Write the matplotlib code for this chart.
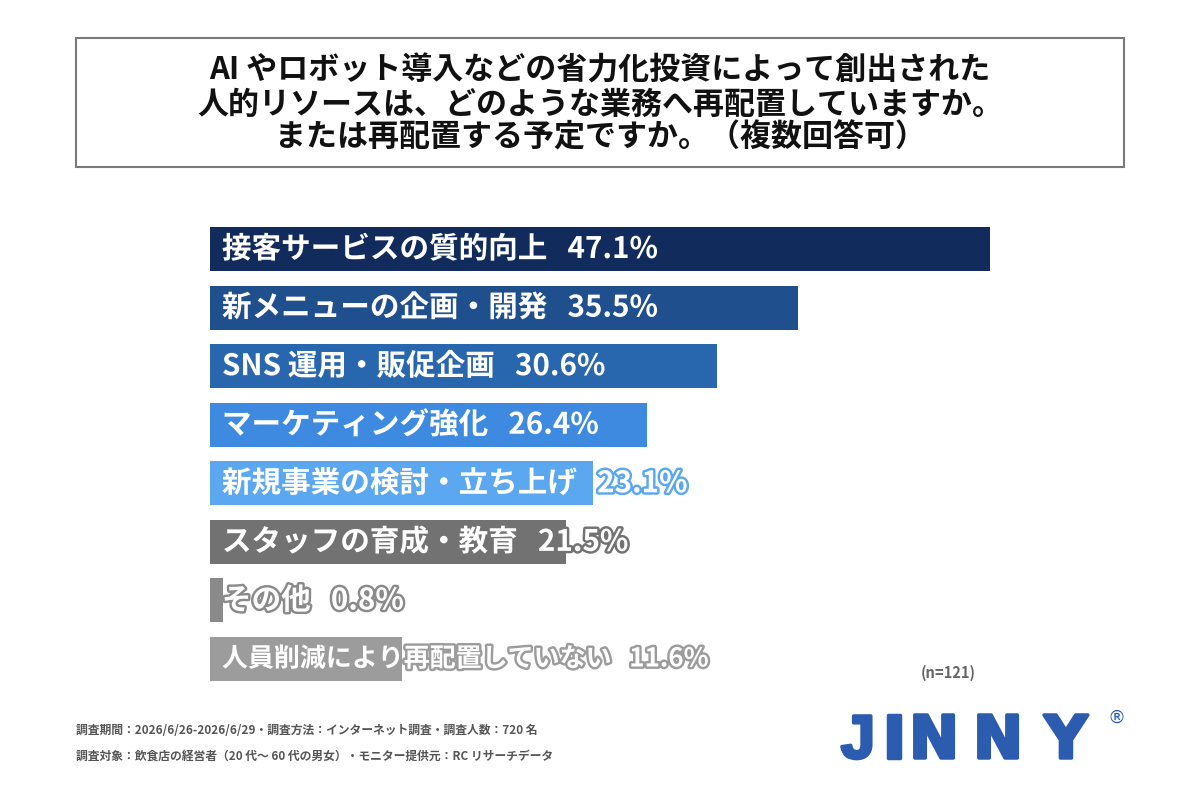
import matplotlib
matplotlib.use("Agg")
import matplotlib.pyplot as plt
import matplotlib.patheffects as pe
from matplotlib.patches import Rectangle

plt.rcParams['font.family'] = ['Noto Sans CJK JP', 'DejaVu Sans']

categories = [
    "接客サービスの質的向上",
    "新メニューの企画・開発",
    "SNS 運用・販促企画",
    "マーケティング強化",
    "新規事業の検討・立ち上げ",
    "スタッフの育成・教育",
    "その他",
    "人員削減により再配置していない",
]
values = [47.1, 35.5, 30.6, 26.4, 23.1, 21.5, 0.8, 11.6]
colors = ["#112b5c", "#1f4f8c", "#2866ae", "#3d8ae0", "#5ba8f0",
          "#727272", "#8a8a8a", "#9c9c9c"]
label_sizes = [21.3, 21.3, 21.3, 21.3, 21.3, 21.3, 21.3, 18.7]

title_lines = [
    "AI やロボット導入などの省力化投資によって創出された",
    "人的リソースは、どのような業務へ再配置していますか。",
    "または再配置する予定ですか。（複数回答可）",
]
footnotes = [
    "調査期間：2026/6/26-2026/6/29・調査方法：インターネット調査・調査人数：720 名",
    "調査対象：飲食店の経営者（20 代～ 60 代の男女）・モニター提供元：RC リサーチデータ",
]
n_label = "(n=121)"
logo_letters = ["J", "I", "N", "N", "Y"]

W, H = 1200, 800
fig = plt.figure(figsize=(12, 8), dpi=100)
fig.patch.set_facecolor("white")

def fx(px):
    return px / W

def fy(py):
    return 1 - py / H

# title box
fig.add_artist(Rectangle((fx(76), fy(167)), fx(1124) - fx(76), fy(38) - fy(167),
                         transform=fig.transFigure, fill=False,
                         edgecolor="#7a7a7a", linewidth=1.5))
for i, line in enumerate(title_lines):
    fig.text(0.5, fy(71 + 33.5 * i), line, ha="center", va="center",
             fontsize=22.3, fontweight="bold", color="#111111")

# bars axes
spacing = 58.57
top_px = 249 - spacing / 2
bot_px = 249 + spacing * 7.5
ax = fig.add_axes([fx(210), fy(bot_px), fx(1110) - fx(210), fy(top_px) - fy(bot_px)])
ax.set_xlim(0, 900 / 16.56)
ax.set_ylim(len(values) - 0.5, -0.5)
ax.axis("off")

ypos = list(range(len(values)))
ax.barh(ypos, values, height=0.75, color=colors, left=0)

for i, (cat, v) in enumerate(zip(categories, values)):
    ax.annotate(f"{cat}   {v:.1f}%", xy=(0, i), xytext=(8.6, 0),
                textcoords="offset points", ha="left", va="center",
                fontsize=label_sizes[i], fontweight="bold", color="white",
                path_effects=[pe.withStroke(linewidth=3.5, foreground=colors[i])])

# n label
fig.text(fx(948), fy(673), n_label, ha="center", va="center",
         fontsize=10.5, fontweight="bold", color="#666666")

# footnotes
for i, line in enumerate(footnotes):
    fig.text(fx(76), fy(731 + 25 * i), line, ha="left", va="center",
             fontsize=8.5, fontweight="bold", color="#555555")

# logo
logo_color = "#2b5cb0"
logo_centers = [858, 894, 934, 998, 1066]
logo_fonts = ["Liberation Sans", "DejaVu Sans", "DejaVu Sans", "DejaVu Sans", "DejaVu Sans"]
logo_sizes = [44, 42.5, 42.5, 42.5, 42.5]
for ch, cx, fam, fs in zip(logo_letters, logo_centers, logo_fonts, logo_sizes):
    fig.text(fx(cx), fy(758), ch, ha="center", va="baseline",
             fontsize=fs, fontweight="heavy", color=logo_color, family=fam,
             path_effects=[pe.withStroke(linewidth=2.5, foreground=logo_color)])
fig.text(fx(1117), fy(718), "®", ha="center", va="center",
         fontsize=13, color=logo_color, family="DejaVu Sans")

fig.savefig("out.png", dpi=100, facecolor="white")
